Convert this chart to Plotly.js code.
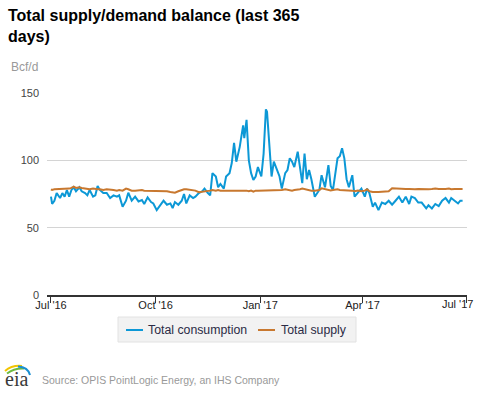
<!DOCTYPE html>
<html>
<head>
<meta charset="utf-8">
<script src="https://cdn.plot.ly/plotly-3.0.1.min.js"></script>
<style>
html,body{margin:0;padding:0;background:#fff;}
#chart{width:477px;height:393px;}
</style>
</head>
<body>
<div id="chart"></div>
<script>
// ---- data ----
var dates = [
"2016-07-01","2016-07-02","2016-07-04","2016-07-06","2016-07-09","2016-07-11","2016-07-13","2016-07-15","2016-07-17","2016-07-19","2016-07-21","2016-07-23","2016-07-26","2016-07-28","2016-07-31",
"2016-08-02","2016-08-04","2016-08-07","2016-08-09","2016-08-11","2016-08-13","2016-08-16","2016-08-19","2016-08-22","2016-08-25","2016-08-28","2016-08-30",
"2016-09-02","2016-09-05","2016-09-07","2016-09-10","2016-09-13","2016-09-16","2016-09-19","2016-09-21","2016-09-24","2016-09-27","2016-09-29",
"2016-10-02","2016-10-05","2016-10-08","2016-10-11","2016-10-14","2016-10-16","2016-10-18","2016-10-21","2016-10-24","2016-10-26","2016-10-28","2016-10-31",
"2016-11-03","2016-11-05","2016-11-08","2016-11-11","2016-11-13","2016-11-16","2016-11-18","2016-11-20","2016-11-23","2016-11-25","2016-11-27","2016-11-30",
"2016-12-02","2016-12-05","2016-12-07","2016-12-09","2016-12-11","2016-12-14","2016-12-17","2016-12-18","2016-12-20","2016-12-22","2016-12-24","2016-12-26","2016-12-28","2016-12-30",
"2017-01-02","2017-01-04","2017-01-06","2017-01-07","2017-01-09","2017-01-11","2017-01-13","2017-01-16","2017-01-18","2017-01-20","2017-01-23","2017-01-25","2017-01-27","2017-01-29","2017-01-31",
"2017-02-03","2017-02-05","2017-02-07","2017-02-09","2017-02-11","2017-02-13","2017-02-15","2017-02-18","2017-02-20","2017-02-22","2017-02-24","2017-02-27",
"2017-03-02","2017-03-04","2017-03-06","2017-03-10","2017-03-12","2017-03-14","2017-03-16","2017-03-18","2017-03-20","2017-03-23","2017-03-25","2017-03-28","2017-03-31",
"2017-04-03","2017-04-05","2017-04-07","2017-04-10","2017-04-12","2017-04-15","2017-04-18","2017-04-21","2017-04-24","2017-04-27","2017-04-30",
"2017-05-03","2017-05-06","2017-05-09","2017-05-12","2017-05-14","2017-05-17","2017-05-20","2017-05-23","2017-05-27","2017-05-29",
"2017-06-01","2017-06-04","2017-06-07","2017-06-10","2017-06-13","2017-06-16","2017-06-18","2017-06-21","2017-06-24","2017-06-26","2017-06-28"
];

var consumption = [
73,67.6,70,75.7,72,75.7,73,78,73,78,80,77,80,77,75.7,
74,78,73,74,81,78,75.7,75.7,72,74,73,74,
65.5,70,76,70,73,69.5,70.5,67.6,72.5,69,68,
63,67,70,67,68,64.5,69,67,70,75,68,74,
72,73,75.7,77,79,75.7,74,90.5,88,80,82.5,79,
88,90.5,98,113,99,110,126,116.5,130,100,90.5,85.4,88,95,
88,105,137.9,136,115,88,99,92,88,79,90.5,92.8,101.5,99,95,
106.4,96,83,105,86,92.8,86,73,75.7,78,89,80,
96.5,81,78,101.5,103,109,101.5,86,80,89,73,75.7,79,
73,79,75.7,65.5,68.6,63,68.6,67.6,70,67,70,
73,68.6,73,67.6,73,72,68.6,68.6,64.3,66.6,
64.3,67.6,66,70,72,68.6,72,70,68,70,70
];

var supply = [
78.5,78,78.5,78.5,79,79,78.5,78.5,79,79.5,80.4,79.5,80,79.5,79,
79,78.5,79,78.5,78.5,78.5,78,78.5,78.5,78,77.5,78,
77.5,79,78.5,77.5,77.5,78,78,77.5,77.5,77,77.5,
77,77,77.5,77,76.5,76,76,77,78,78.5,78.5,78,
78,77.5,76.3,76.5,77,77,77.5,78,77.5,78,77.5,77.5,
77.5,78,77.5,78,77.7,78,77.5,77.5,77.5,77,77.5,76.7,77.5,77.5,
77.5,78,78,78,77.5,78,78,77.7,78,78,78.5,78,78,77.5,78,
78,78.5,79,78.5,78,78,77.5,77.5,77.7,78,79.2,78.5,
78,77.7,78,78.5,78,78,77.5,77.7,78,77.5,77,77.5,77,
77.5,78.5,77,76.5,76.7,76.5,76.7,76.7,77,79.2,79,
78.7,78.5,78.7,78.7,78.5,78.5,78.7,78.5,78.7,78.5,
78.7,79,78.7,78.5,78.7,79,78.5,78.7,78.5,78.7,78.7
];

var seriesNames = ["Total consumption", "Total supply"];
var seriesColors = ["#0c98d6", "#c8782f"];
var xTickVals = ["2016-07-01","2016-10-01","2017-01-01","2017-04-01","2017-07-01"];
var xTickText = ["Jul '16","Oct '16","Jan '17","Apr '17","Jul '17"];
var yTickVals = [0, 50, 100, 150];

// ---- chart ----
var FONT = "Liberation Sans, Arial, sans-serif";
var L = 47, T = 93, PW = 420, PH = 202;
function px(x) { return (x - L) / PW; }
function py(y) { return (T + PH - y) / PH; }

// the last tick label sits flush with the right edge (as in the reference),
// so it is drawn as an annotation anchored at its tick date
var lastIdx = xTickVals.length - 1;
var axisTickText = xTickText.map(function (t, i) { return i === lastIdx ? "" : t; });

var traces = [
  {x: dates, y: consumption, name: seriesNames[0], type: "scatter", mode: "lines",
   line: {color: seriesColors[0], width: 2}, showlegend: false},
  {x: dates, y: supply, name: seriesNames[1], type: "scatter", mode: "lines",
   line: {color: seriesColors[1], width: 2}, showlegend: false}
];

var layout = {
  width: 477, height: 393,
  margin: {l: L, r: 477 - L - PW, t: T, b: 393 - T - PH, pad: 0},
  paper_bgcolor: "#fff", plot_bgcolor: "#fff",
  font: {family: FONT, size: 12, color: "#333"},
  showlegend: false,
  title: {
    text: "<b>Total supply/demand balance (last 365<br>days)</b>",
    xref: "container", yref: "container",
    x: 8/477, xanchor: "left",
    y: 1 - 21/393, yanchor: "top",
    font: {family: FONT, size: 16, color: "#000"}
  },
  xaxis: {
    type: "date",
    range: ["2016-06-27 12:00", "2017-07-01 21:00"],
    tickvals: xTickVals, ticktext: axisTickText,
    showgrid: false, zeroline: false,
    showline: true, linecolor: "#333", linewidth: 2,
    ticks: "outside", ticklen: 6, tickwidth: 1, tickcolor: "#333",
    ticklabelstandoff: -7,
    tickfont: {family: FONT, size: 11, color: "#222"},
    fixedrange: true
  },
  yaxis: {
    range: [0, 150],
    tickvals: yTickVals,
    showgrid: true, gridcolor: "#d4d4d4", gridwidth: 1,
    zeroline: false, showline: false, ticks: "",
    ticklabelstandoff: 7,
    tickfont: {family: FONT, size: 11, color: "#444"},
    fixedrange: true
  },
  annotations: [
    {text: xTickText[lastIdx], xref: "x", yref: "paper",
     x: xTickVals[lastIdx], xanchor: "right", xshift: 9,
     y: py(303.5), yanchor: "middle",
     showarrow: false, font: {family: FONT, size: 11, color: "#222"}},
    {text: "Bcf/d", xref: "paper", yref: "paper",
     x: px(9), xanchor: "left", y: py(67), yanchor: "middle",
     showarrow: false, font: {family: FONT, size: 12, color: "#999"}},
    {text: "Source: OPIS PointLogic Energy, an IHS Company", xref: "paper", yref: "paper",
     x: px(40), xanchor: "left", y: py(380), yanchor: "middle",
     showarrow: false, font: {family: FONT, size: 10.5, color: "#999"}},
    {text: "eia", xref: "paper", yref: "paper",
     x: px(3), xanchor: "left", y: py(379), yanchor: "middle",
     showarrow: false, font: {family: "Liberation Serif, DejaVu Serif, serif", size: 20, color: "#3a3a3a"}},
    // legend entries
    {text: seriesNames[0], xref: "paper", yref: "paper",
     x: px(146), xanchor: "left", y: py(330), yanchor: "middle",
     showarrow: false, font: {family: FONT, size: 12.3, color: "#2b2b45"}},
    {text: seriesNames[1], xref: "paper", yref: "paper",
     x: px(279), xanchor: "left", y: py(330), yanchor: "middle",
     showarrow: false, font: {family: FONT, size: 12.3, color: "#2b2b45"}}
  ],
  shapes: [
    // legend box and samples
    {type: "rect", xref: "paper", yref: "paper",
     x0: px(118), x1: px(356), y0: py(317), y1: py(342),
     fillcolor: "#f2f2f2", line: {color: "#e2e2e2", width: 1}},
    {type: "line", xref: "paper", yref: "paper",
     x0: px(126), x1: px(143), y0: py(330), y1: py(330),
     line: {color: seriesColors[0], width: 2}},
    {type: "line", xref: "paper", yref: "paper",
     x0: px(258), x1: px(275), y0: py(330), y1: py(330),
     line: {color: seriesColors[1], width: 2}},
    // eia logo arcs
    {type: "path", xref: "paper", yref: "paper",
     path: "M " + px(5) + " " + py(371) + " Q " + px(12) + " " + py(365) + " " + px(22) + " " + py(366),
     line: {color: "#f2c500", width: 2}},
    {type: "path", xref: "paper", yref: "paper",
     path: "M " + px(7) + " " + py(373.5) + " Q " + px(14) + " " + py(368) + " " + px(24) + " " + py(368.5),
     line: {color: "#6dbb3f", width: 2}},
    {type: "path", xref: "paper", yref: "paper",
     path: "M " + px(18) + " " + py(366.5) + " Q " + px(28) + " " + py(367) + " " + px(30) + " " + py(375),
     line: {color: "#1a8fd1", width: 2}}
  ]
};

Plotly.newPlot("chart", traces, layout, {displayModeBar: false, staticPlot: true});
</script>
</body>
</html>
